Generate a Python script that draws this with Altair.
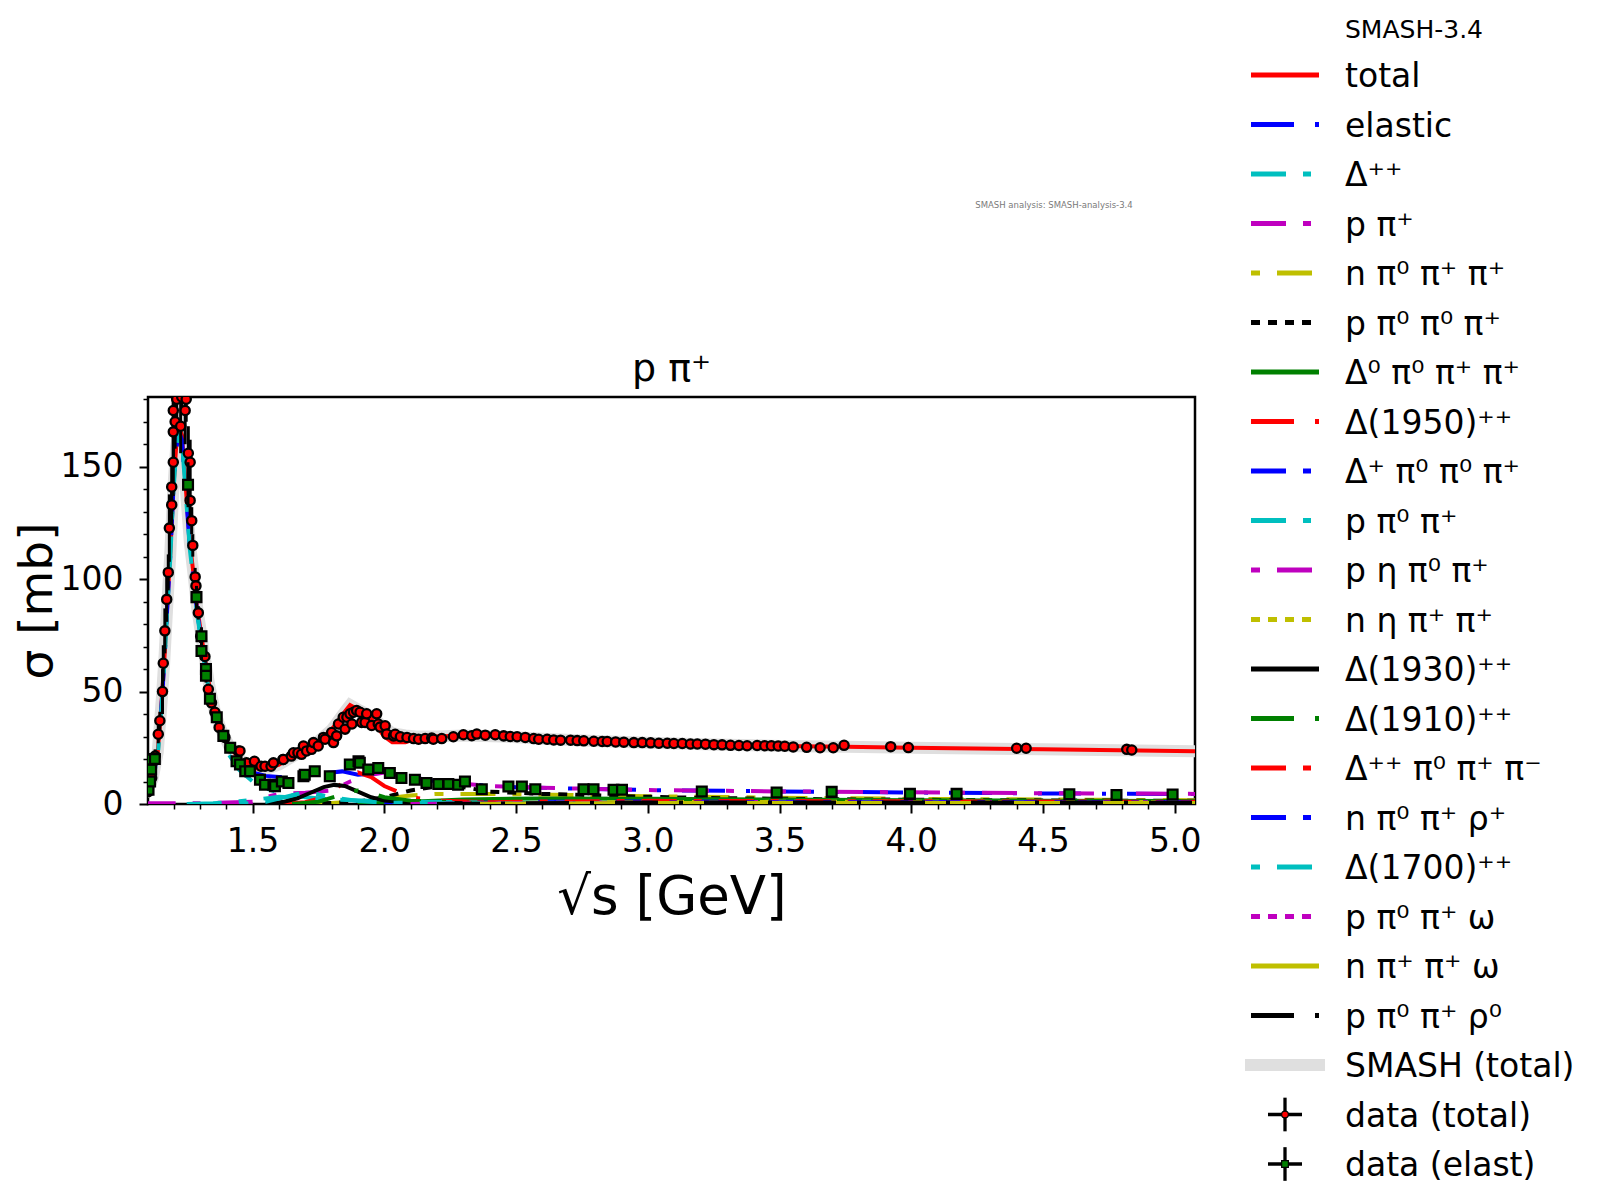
import altair as alt
import pandas as pd

FONT = "DejaVu Sans"
W, H = 1047, 407

# ---------------- SMASH curves (sqrt(s) [GeV], sigma [mb]) ----------------
total_x = [1.075, 1.10, 1.12, 1.14, 1.155, 1.165, 1.175, 1.187, 1.199, 1.21, 1.222, 1.232, 1.245, 1.262, 1.275,
           1.29, 1.313, 1.335, 1.357, 1.38, 1.41, 1.45, 1.50, 1.55, 1.60, 1.65, 1.70, 1.75, 1.80, 1.85,
           1.87, 1.90, 1.95, 2.00, 2.03, 2.08, 2.12, 2.20, 2.30, 2.45, 2.60, 2.80, 3.00, 3.25, 3.50,
           3.75, 4.00, 4.50, 5.077]
total_y = [3, 6, 11, 23, 46, 64, 86, 110, 140, 159, 167, 164, 143, 116, 103,
           87, 69, 53, 41, 33, 26, 20, 16, 15.5, 17.5, 21, 24.5, 28, 33, 41,
           44, 42, 38, 30, 27.5, 27.5, 29, 30, 30.5, 30, 29, 28, 27.2, 26.5, 25.8,
           25.5, 25, 24.3, 23.5]
band_y = [3, 6, 11, 23, 46, 64, 86, 110, 140, 159, 167, 164, 143, 116, 103,
          87, 69, 53, 41, 33, 26, 20, 16, 15.5, 17.5, 21, 24.5, 28, 33, 41,
          44, 42, 39, 34, 31.5, 30.5, 30, 30, 30.5, 30, 29, 28, 27.2, 26.5, 25.8,
          25.5, 25, 24.3, 23.5]

el_x = [1.075, 1.10, 1.12, 1.14, 1.155, 1.165, 1.175, 1.187, 1.199, 1.21, 1.222, 1.232, 1.245, 1.262, 1.275,
        1.29, 1.313, 1.335, 1.357, 1.38, 1.41, 1.45, 1.50, 1.55, 1.60, 1.65, 1.70, 1.75, 1.80, 1.84,
        1.90, 1.95, 2.00, 2.10, 2.20, 2.30, 2.40, 2.50, 2.75, 3.00, 3.50, 4.00, 4.50, 5.077]
el_y = [3, 6, 11, 22, 45, 63, 85, 109, 139, 158, 165, 162, 141, 114, 101,
        85, 67, 51, 39, 31, 24, 18, 14, 12.5, 12, 12, 12.5, 13.5, 14, 14.5,
        13, 13.5, 14, 12, 10, 9, 8, 7.5, 6.8, 6.2, 5.6, 5.1, 4.7, 4.4]

dpp_x = [1.075, 1.10, 1.12, 1.14, 1.155, 1.165, 1.175, 1.187, 1.199, 1.21, 1.222, 1.232, 1.245, 1.262, 1.275,
         1.29, 1.313, 1.335, 1.357, 1.38, 1.41, 1.45, 1.50, 1.55, 1.60, 1.70, 1.80, 2.00, 2.50, 3.00,
         4.00, 5.077]
dpp_y = [3, 5.5, 10.5, 21, 44, 62, 84, 108, 138, 157, 164, 161, 140, 113, 100,
         84, 66, 50, 38, 30, 22, 15, 10, 7, 5, 3, 2, 1, 0.5, 0.3,
         0.2, 0.1]

ppi_x = [1.075, 1.30, 1.50, 1.55, 1.60, 1.70, 1.80, 1.87, 1.95, 2.00, 2.10, 2.20, 2.40, 2.60, 3.00, 3.50, 4.00, 4.50, 5.077]
ppi_y = [0.3, 0.3, 1, 3, 4.5, 5, 6, 10, 13, 14, 12, 10, 8, 7.2, 6.2, 5.6, 5.2, 4.8, 4.5]

npp_x = [1.60, 1.80, 1.90, 2.00, 2.10, 2.20, 2.40, 2.70, 3.00, 3.50, 4.00, 4.50, 5.077]
npp_y = [0, 0.5, 1, 2.5, 3.8, 4.5, 4.5, 4, 3.5, 2.8, 2.3, 2.0, 1.7]

p00_x = [1.70, 1.90, 2.00, 2.10, 2.20, 2.30, 2.40, 2.60, 2.90, 3.20, 3.60, 4.00, 4.50, 5.077]
p00_y = [0, 1, 3, 6, 7.8, 7.5, 5.5, 4.5, 3.5, 2.7, 2.2, 1.9, 1.6, 1.4]

d0_x = [1.90, 2.10, 2.30, 2.60, 3.00, 3.50, 4.00, 4.50, 5.077]
d0_y = [0, 1, 2, 2.5, 2.3, 2.0, 1.7, 1.5, 1.3]

d1950_x = [1.60, 1.70, 1.80, 1.85, 1.90, 1.95, 2.00, 2.10, 2.20, 2.50, 3.00, 4.00, 5.077]
d1950_y = [0, 0.8, 4, 11, 14, 12, 8, 3, 1.5, 0.5, 0.2, 0.1, 0.1]

dp_x = [2.00, 2.30, 2.60, 3.00, 4.00, 5.077]
dp_y = [0, 0.5, 1.0, 1.1, 0.9, 0.7]

p0p_x = [1.25, 1.35, 1.45, 1.55, 1.60, 1.70, 1.80, 2.00, 2.50, 3.00, 4.00, 5.077]
p0p_y = [0, 0.3, 1.2, 2.5, 3.2, 2.8, 2, 1.2, 0.6, 0.4, 0.2, 0.1]

pe_x = [2.20, 2.50, 3.00, 4.00, 5.077]
pe_y = [0, 0.3, 0.8, 0.9, 0.8]

ne_x = [2.20, 2.50, 3.00, 4.00, 5.077]
ne_y = [0, 0.4, 0.9, 1.0, 0.8]

d1930_x = [1.55, 1.62, 1.67, 1.72, 1.77, 1.81, 1.85, 1.90, 1.95, 2.00, 2.10, 2.50, 3.00, 4.00, 5.077]
d1930_y = [0, 1, 2.5, 5, 7.5, 8.5, 8, 5.5, 3, 1.5, 0.6, 0.2, 0.1, 0.1, 0.1]

d1910_x = [1.65, 1.75, 1.82, 1.86, 1.90, 1.95, 2.00, 2.10, 2.30, 3.00, 4.00, 5.077]
d1910_y = [0, 1, 3.5, 5.5, 6, 5, 3, 1.5, 0.6, 0.2, 0.1, 0.1]

dpm_x = [2.10, 2.50, 3.00, 4.00, 5.077]
dpm_y = [0, 1, 1.4, 1.2, 1.0]

nr_x = [2.30, 2.80, 3.50, 5.077]
nr_y = [0, 0.5, 0.8, 0.7]

d1700_x = [1.45, 1.55, 1.62, 1.68, 1.74, 1.80, 1.90, 2.00, 2.50, 3.00, 4.00, 5.077]
d1700_y = [0, 1, 3, 4.8, 4.5, 3, 1.3, 0.6, 0.2, 0.1, 0.1, 0.1]

pw_x = [2.10, 2.50, 3.00, 5.077]
pw_y = [0, 0.3, 0.5, 0.5]

nw_x = [2.30, 3.00, 5.077]
nw_y = [0, 0.5, 0.5]

pr_x = [2.20, 3.00, 5.077]
pr_y = [0, 0.7, 0.6]

# ---------------- experimental data ----------------
tot_x = [1.104, 1.111, 1.117, 1.130, 1.142, 1.148, 1.158, 1.161, 1.167, 1.174,
         1.180, 1.184, 1.193, 1.193, 1.199, 1.199, 1.199, 1.206, 1.212, 1.227,
         1.231, 1.244, 1.248, 1.256, 1.263, 1.263, 1.269, 1.273, 1.282, 1.285,
         1.294, 1.303, 1.319, 1.332, 1.344, 1.357, 1.373, 1.395, 1.414, 1.446,
         1.452, 1.477, 1.507, 1.532, 1.547, 1.570, 1.579, 1.615, 1.617, 1.647,
         1.655, 1.672, 1.686, 1.693, 1.705, 1.724, 1.731, 1.749, 1.769, 1.775,
         1.800, 1.807, 1.819, 1.826, 1.844, 1.851, 1.858, 1.870, 1.877, 1.883,
         1.895, 1.908, 1.914, 1.927, 1.933, 1.952, 1.971, 1.977, 1.984, 2.003,
         2.009, 2.035, 2.041, 2.061, 2.086, 2.111, 2.130, 2.155, 2.180, 2.186,
         2.218, 2.262, 2.300, 2.332, 2.351, 2.383, 2.421, 2.453, 2.478, 2.504,
         2.535, 2.567, 2.586, 2.618, 2.643, 2.669, 2.707, 2.732, 2.757, 2.795,
         2.827, 2.846, 2.878, 2.909, 2.947, 2.979, 3.011, 3.042, 3.074, 3.099,
         3.131, 3.162, 3.188, 3.219, 3.251, 3.282, 3.314, 3.346, 3.377, 3.415,
         3.444, 3.469, 3.495, 3.520, 3.552, 3.603, 3.654, 3.704, 3.745, 3.922,
         3.989, 4.400, 4.436, 4.818, 4.837]
tot_y = [5.5, 9.3, 11.6, 21.3, 31, 37, 50, 62.6, 77, 91,
         103, 122.7, 133, 141, 152, 165.5, 175, 170, 180, 168,
         181, 175, 180, 156, 152, 135, 126, 115, 101, 97,
         85, 74.6, 65.6, 51, 45, 40.8, 34, 29.6, 25, 23.6,
         23.6, 18.3, 19, 16.8, 16.8, 16.8, 18.3, 19.8, 19.8, 21.3,
         22.8, 22.8, 22.1, 25.8, 23.6, 24.3, 27.3, 25.8, 29.6, 28.8,
         31.8, 27.3, 30.3, 35.6, 38.6, 33.3, 38.6, 40.1, 35.6, 40.8,
         41.6, 40.8, 36.3, 36.3, 40.1, 34.9, 40.1, 35.6, 34.2, 34.8,
         31.1, 30.3, 31, 29.9, 29.6, 29.1, 28.8, 29.1, 29.3, 28.8,
         29.1, 29.9, 30.8, 30.4, 31.1, 30.6, 30.8, 30.3, 30.0, 29.9,
         29.6, 29.1, 28.8, 28.8, 28.5, 28.4, 28.4, 28.2, 28.1, 27.9,
         27.8, 27.8, 27.6, 27.5, 27.3, 27.3, 27.2, 27.0, 27.0, 26.9,
         26.9, 26.7, 26.7, 26.6, 26.4, 26.3, 26.1, 26.0, 25.9, 26.0,
         25.9, 25.9, 25.8, 25.7, 25.4, 25.2, 25.0, 25.0, 26.1, 25.5,
         25.1, 24.8, 24.8, 24.3, 24.0]
tot_err = [1, 1.5, 2, 3, 4, 4, 10, 8, 10, 10,
           8, 15, 10, 12, 15, 15, 12, 12, 10, 12,
           8, 15, 10, 12, 10, 8, 6, 5, 4, 4,
           3, 3, 2, 2, 2, 1.5, 1.5, 1, 1, 1,
           1, 1, 1, 1, 1, 1, 1, 1, 1, 1,
           1, 1, 1, 1, 1, 1, 1, 1, 1, 1,
           1, 1, 1, 1, 1, 1, 1, 1, 1, 1,
           1, 1, 1, 1, 1, 1, 1, 1, 1, 1,
           1, 1, 1, 1, 1, 1, 1, 1, 1, 0.8,
           0.8, 0.8, 0.8, 0.8, 0.8, 0.8, 0.8, 0.8, 0.8, 0.8,
           0.8, 0.8, 0.8, 0.8, 0.8, 0.8, 0.8, 0.8, 0.8, 0.8,
           0.8, 0.8, 0.8, 0.8, 0.8, 0.8, 0.8, 0.8, 0.8, 0.8,
           0.8, 0.8, 0.8, 0.8, 0.8, 0.8, 0.8, 0.8, 0.8, 0.8,
           0.8, 0.8, 0.8, 0.8, 0.8, 0.8, 0.8, 0.8, 0.8, 0.8,
           0.8, 0.8, 0.8, 0.8, 0.8]

ela_x = [1.105, 1.111, 1.115, 1.115, 1.129, 1.255, 1.287, 1.306, 1.306, 1.323,
         1.323, 1.338, 1.364, 1.389, 1.415, 1.439, 1.452, 1.472, 1.490, 1.528,
         1.547, 1.579, 1.585, 1.611, 1.636, 1.693, 1.698, 1.736, 1.793, 1.869,
         1.902, 1.907, 1.939, 1.977, 2.021, 2.065, 2.116, 2.160, 2.205, 2.243,
         2.280, 2.306, 2.370, 2.471, 2.522, 2.573, 2.756, 2.794, 2.870, 2.902,
         3.205, 3.489, 3.698, 3.995, 4.172, 4.600, 4.779, 4.992]
ela_y = [6.3, 10, 15.3, 19.8, 20, 142, 92, 74.6, 68, 60,
         57, 46.8, 38.6, 30.3, 25, 19, 17.6, 14.6, 14.6, 10.8,
         8.6, 8.6, 7.9, 10, 9.3, 12.3, 13, 14.6, 12.3, 17.6,
         19, 18.3, 15.3, 16, 13.8, 11.6, 10.8, 9.3, 8.9, 8.9,
         8.6, 10, 6.6, 7.8, 7.8, 6.6, 6.6, 6.6, 6.3, 6.3,
         5.6, 5.1, 5.4, 4.5, 4.5, 4.3, 4.0, 4.2]
ela_err = [1, 1, 1, 1.5, 1.5, 10, 5, 4, 4, 3,
           3, 2, 2, 1.5, 1.5, 1, 1, 1, 1, 1,
           1, 1, 1, 1, 1, 1, 1, 1, 1, 1,
           1, 1, 1, 1, 1, 1, 1, 1, 1, 1,
           1, 1, 0.8, 0.8, 0.8, 0.8, 0.8, 0.8, 0.8, 0.8,
           0.6, 0.6, 0.6, 0.6, 0.6, 0.6, 0.6, 0.6]

# ---------------- axes ----------------
x_tick_values = [1.2, 1.3, 1.4, 1.5, 1.6, 1.7, 1.8, 1.9, 2.0,
                 2.1, 2.2, 2.3, 2.4, 2.5, 2.6, 2.7, 2.8, 2.9, 3.0,
                 3.1, 3.2, 3.3, 3.4, 3.5, 3.6, 3.7, 3.8, 3.9, 4.0,
                 4.1, 4.2, 4.3, 4.4, 4.5, 4.6, 4.7, 4.8, 4.9, 5.0]
y_tick_values = [0, 10, 20, 30, 40, 50, 60, 70, 80, 90, 100, 110, 120, 130, 140, 150, 160, 170, 180]

X_MAJ = "abs(datum.value * 2 - round(datum.value * 2)) < 0.001"
Y_MAJ = "datum.value % 50 == 0"

x_scale = alt.Scale(domain=[1.103, 5.077], nice=False, zero=False)
y_scale = alt.Scale(domain=[0, 181], nice=False, zero=False)

x_axis = alt.Axis(
    values=x_tick_values,
    labelExpr=f"({X_MAJ}) ? format(datum.value, '.1f') : ''",
    tickSize={"condition": {"test": X_MAJ, "value": 9}, "value": 5},
    tickWidth={"condition": {"test": X_MAJ, "value": 2}, "value": 1.5},
    tickColor="black", labelColor="black", labelFontSize=33, labelFont=FONT,
    labelPadding=12, labelOverlap=False, labelFlush=False, labelBound=False,
    title="√s [GeV]", titleFontSize=53, titleFont=FONT, titleFontWeight="normal",
    titleColor="black", titlePadding=13, domain=False, grid=False,
)
y_axis = alt.Axis(
    values=y_tick_values,
    labelExpr=f"({Y_MAJ}) ? format(datum.value, 'd') : ''",
    tickSize={"condition": {"test": Y_MAJ, "value": 9}, "value": 5},
    tickWidth={"condition": {"test": Y_MAJ, "value": 2}, "value": 1.5},
    tickColor="black", labelColor="black", labelFontSize=33, labelFont=FONT,
    labelPadding=16, labelOverlap=False, labelFlush=False, labelBound=False,
    title="σ [mb]", titleFontSize=47, titleFont=FONT, titleFontWeight="normal",
    titleColor="black", titleX=-111, titleY=H / 2, titleAngle=270,
    titleAlign="center", titleBaseline="middle", domain=False, grid=False,
)

XE = alt.X("x:Q", scale=x_scale, axis=x_axis)
YE = alt.Y("y:Q", scale=y_scale, axis=y_axis)

# matplotlib-like colours and dash patterns
RED, BLUE, CYAN, MAG, OLIVE, BLACK, GREEN = "#ff0000", "#0000ff", "#00bfbf", "#bf00bf", "#bfbf00", "#000000", "#008000"
SOLID = None
DASHDOT = [43, 21, 4, 21]
LONGSHORT = [35, 17, 8, 17]
SHORTLONG = [9, 17, 35, 17]
DASHED = [9, 8]

components = [
    ("total", total_x, total_y, RED, SOLID),
    ("elastic", el_x, el_y, BLUE, DASHDOT),
    ("Δ⁺⁺", dpp_x, dpp_y, CYAN, LONGSHORT),
    ("p π⁺", ppi_x, ppi_y, MAG, LONGSHORT),
    ("n π⁰ π⁺ π⁺", npp_x, npp_y, OLIVE, SHORTLONG),
    ("p π⁰ π⁰ π⁺", p00_x, p00_y, BLACK, DASHED),
    ("Δ⁰ π⁰ π⁺ π⁺", d0_x, d0_y, GREEN, SOLID),
    ("Δ(1950)⁺⁺", d1950_x, d1950_y, RED, DASHDOT),
    ("Δ⁺ π⁰ π⁰ π⁺", dp_x, dp_y, BLUE, LONGSHORT),
    ("p π⁰ π⁺", p0p_x, p0p_y, CYAN, LONGSHORT),
    ("p η π⁰ π⁺", pe_x, pe_y, MAG, SHORTLONG),
    ("n η π⁺ π⁺", ne_x, ne_y, OLIVE, DASHED),
    ("Δ(1930)⁺⁺", d1930_x, d1930_y, BLACK, SOLID),
    ("Δ(1910)⁺⁺", d1910_x, d1910_y, GREEN, DASHDOT),
    ("Δ⁺⁺ π⁰ π⁺ π⁻", dpm_x, dpm_y, RED, LONGSHORT),
    ("n π⁰ π⁺ ρ⁺", nr_x, nr_y, BLUE, LONGSHORT),
    ("Δ(1700)⁺⁺", d1700_x, d1700_y, CYAN, SHORTLONG),
    ("p π⁰ π⁺ ω", pw_x, pw_y, MAG, DASHED),
    ("n π⁺ π⁺ ω", nw_x, nw_y, OLIVE, SOLID),
    ("p π⁰ π⁺ ρ⁰", pr_x, pr_y, BLACK, DASHDOT),
]
extra_labels = ["SMASH (total)", "data (total)", "data (elast)"]

# ---------------- main plot layers ----------------
main_layers = []
band_df = pd.DataFrame({"x": total_x, "y": band_y})
main_layers.append(
    alt.Chart(band_df).mark_line(color="#dfdfdf", strokeWidth=12, clip=True).encode(x=XE, y=YE)
)
for name, xs, ys, col, dash in components:
    kw = dict(color=col, strokeWidth=4, clip=True)
    if dash:
        kw["strokeDash"] = dash
    main_layers.append(
        alt.Chart(pd.DataFrame({"x": xs, "y": ys})).mark_line(**kw).encode(x=XE, y=YE)
    )

tot_df = pd.DataFrame({"x": tot_x, "y": tot_y, "err": tot_err})
ela_df = pd.DataFrame({"x": ela_x, "y": ela_y, "err": ela_err})


def errbars(df):
    return alt.Chart(df).transform_calculate(
        lo="datum.y - datum.err", hi="datum.y + datum.err"
    ).mark_rule(color="black", strokeWidth=3, clip=True).encode(
        x=XE, y=alt.Y("lo:Q", scale=y_scale, axis=y_axis), y2="hi:Q"
    )


main_layers.append(errbars(tot_df))
main_layers.append(
    alt.Chart(tot_df).mark_point(shape="circle", filled=True, fill=RED, stroke="black",
                                 strokeWidth=2.3, size=85, opacity=1, clip=True).encode(x=XE, y=YE)
)
main_layers.append(errbars(ela_df))
main_layers.append(
    alt.Chart(ela_df).mark_point(shape="square", filled=True, fill=GREEN, stroke="black",
                                 strokeWidth=2.3, size=95, opacity=1, clip=True).encode(x=XE, y=YE)
)

main = alt.layer(*main_layers)

# ---------------- legend (own index scale) ----------------
leg_scale = alt.Scale(domain=[0, 22], range=[-322, 767], nice=False, zero=False)
LY = alt.Y("idx:Q", scale=leg_scale, axis=None)
LX0, LX1, LTXT = 1103, 1171, 1197
LMK = 1137

legend_layers = []
for i, (name, xs, ys, col, dash) in enumerate(components):
    kw = dict(color=col, strokeWidth=5)
    if dash:
        kw["strokeDash"] = dash
    legend_layers.append(
        alt.Chart(pd.DataFrame({"idx": [i]})).mark_rule(**kw).encode(
            x=alt.value(LX0), x2=alt.value(LX1), y=LY)
    )
legend_layers.append(
    alt.Chart(pd.DataFrame({"idx": [20]})).mark_rule(color="#dfdfdf", strokeWidth=12).encode(
        x=alt.value(LX0 - 6), x2=alt.value(LX1 + 6), y=LY)
)
data_leg = pd.DataFrame({"idx": [21, 22], "kind": ["total", "elast"]})
legend_layers.append(
    alt.Chart(data_leg).mark_rule(color="black", strokeWidth=3.3).encode(
        x=alt.value(LMK - 17), x2=alt.value(LMK + 17), y=LY)
)
legend_layers.append(
    alt.Chart(data_leg).transform_calculate(
        lo="datum.idx - 0.34", hi="datum.idx + 0.34"
    ).mark_rule(color="black", strokeWidth=3.3).encode(
        x=alt.value(LMK), y=alt.Y("lo:Q", scale=leg_scale, axis=None), y2="hi:Q")
)
legend_layers.append(
    alt.Chart(data_leg[data_leg.kind == "total"]).mark_point(
        shape="circle", filled=True, fill=RED, stroke="black", strokeWidth=1.2, size=45, opacity=1
    ).encode(x=alt.value(LMK), y=LY)
)
legend_layers.append(
    alt.Chart(data_leg[data_leg.kind == "elast"]).mark_point(
        shape="square", filled=True, fill=GREEN, stroke="black", strokeWidth=1.2, size=45, opacity=1
    ).encode(x=alt.value(LMK), y=LY)
)
labels_df = pd.DataFrame({
    "idx": list(range(len(components) + len(extra_labels))),
    "label": [c[0] for c in components] + extra_labels,
})
legend_layers.append(
    alt.Chart(labels_df).mark_text(align="left", baseline="middle", fontSize=33, font=FONT,
                                   color="black", dy=2).encode(
        x=alt.value(LTXT), y=LY, text="label:N")
)
# legend title
legend_layers.append(
    alt.Chart(pd.DataFrame({"t": ["SMASH-3.4"]})).mark_text(
        align="left", baseline="middle", fontSize=25, font=FONT, color="black"
    ).encode(x=alt.value(LTXT), y=alt.value(-367), text="t:N")
)
# analysis tag
legend_layers.append(
    alt.Chart(pd.DataFrame({"t": ["SMASH analysis: SMASH-analysis-3.4"]})).mark_text(
        align="center", baseline="middle", fontSize=8.5, font=FONT, color="#7a7a7a"
    ).encode(x=alt.value(906), y=alt.value(-192), text="t:N")
)
# panel title
legend_layers.append(
    alt.Chart(pd.DataFrame({"t": ["p π⁺"]})).mark_text(
        align="center", baseline="alphabetic", fontSize=38, font=FONT, color="black"
    ).encode(x=alt.value(W / 2), y=alt.value(-16), text="t:N")
)

legend = alt.layer(*legend_layers)

chart = alt.layer(main, legend).resolve_scale(y="independent").properties(
    width=W, height=H,
    autosize=alt.AutoSizeParams(type="none"),
    padding={"left": 140, "top": 389, "right": 390, "bottom": 385},
).configure(font=FONT).configure_view(stroke="black", strokeWidth=2.5)

chart.save("out.html", embed_options={"renderer": "svg", "actions": False})
